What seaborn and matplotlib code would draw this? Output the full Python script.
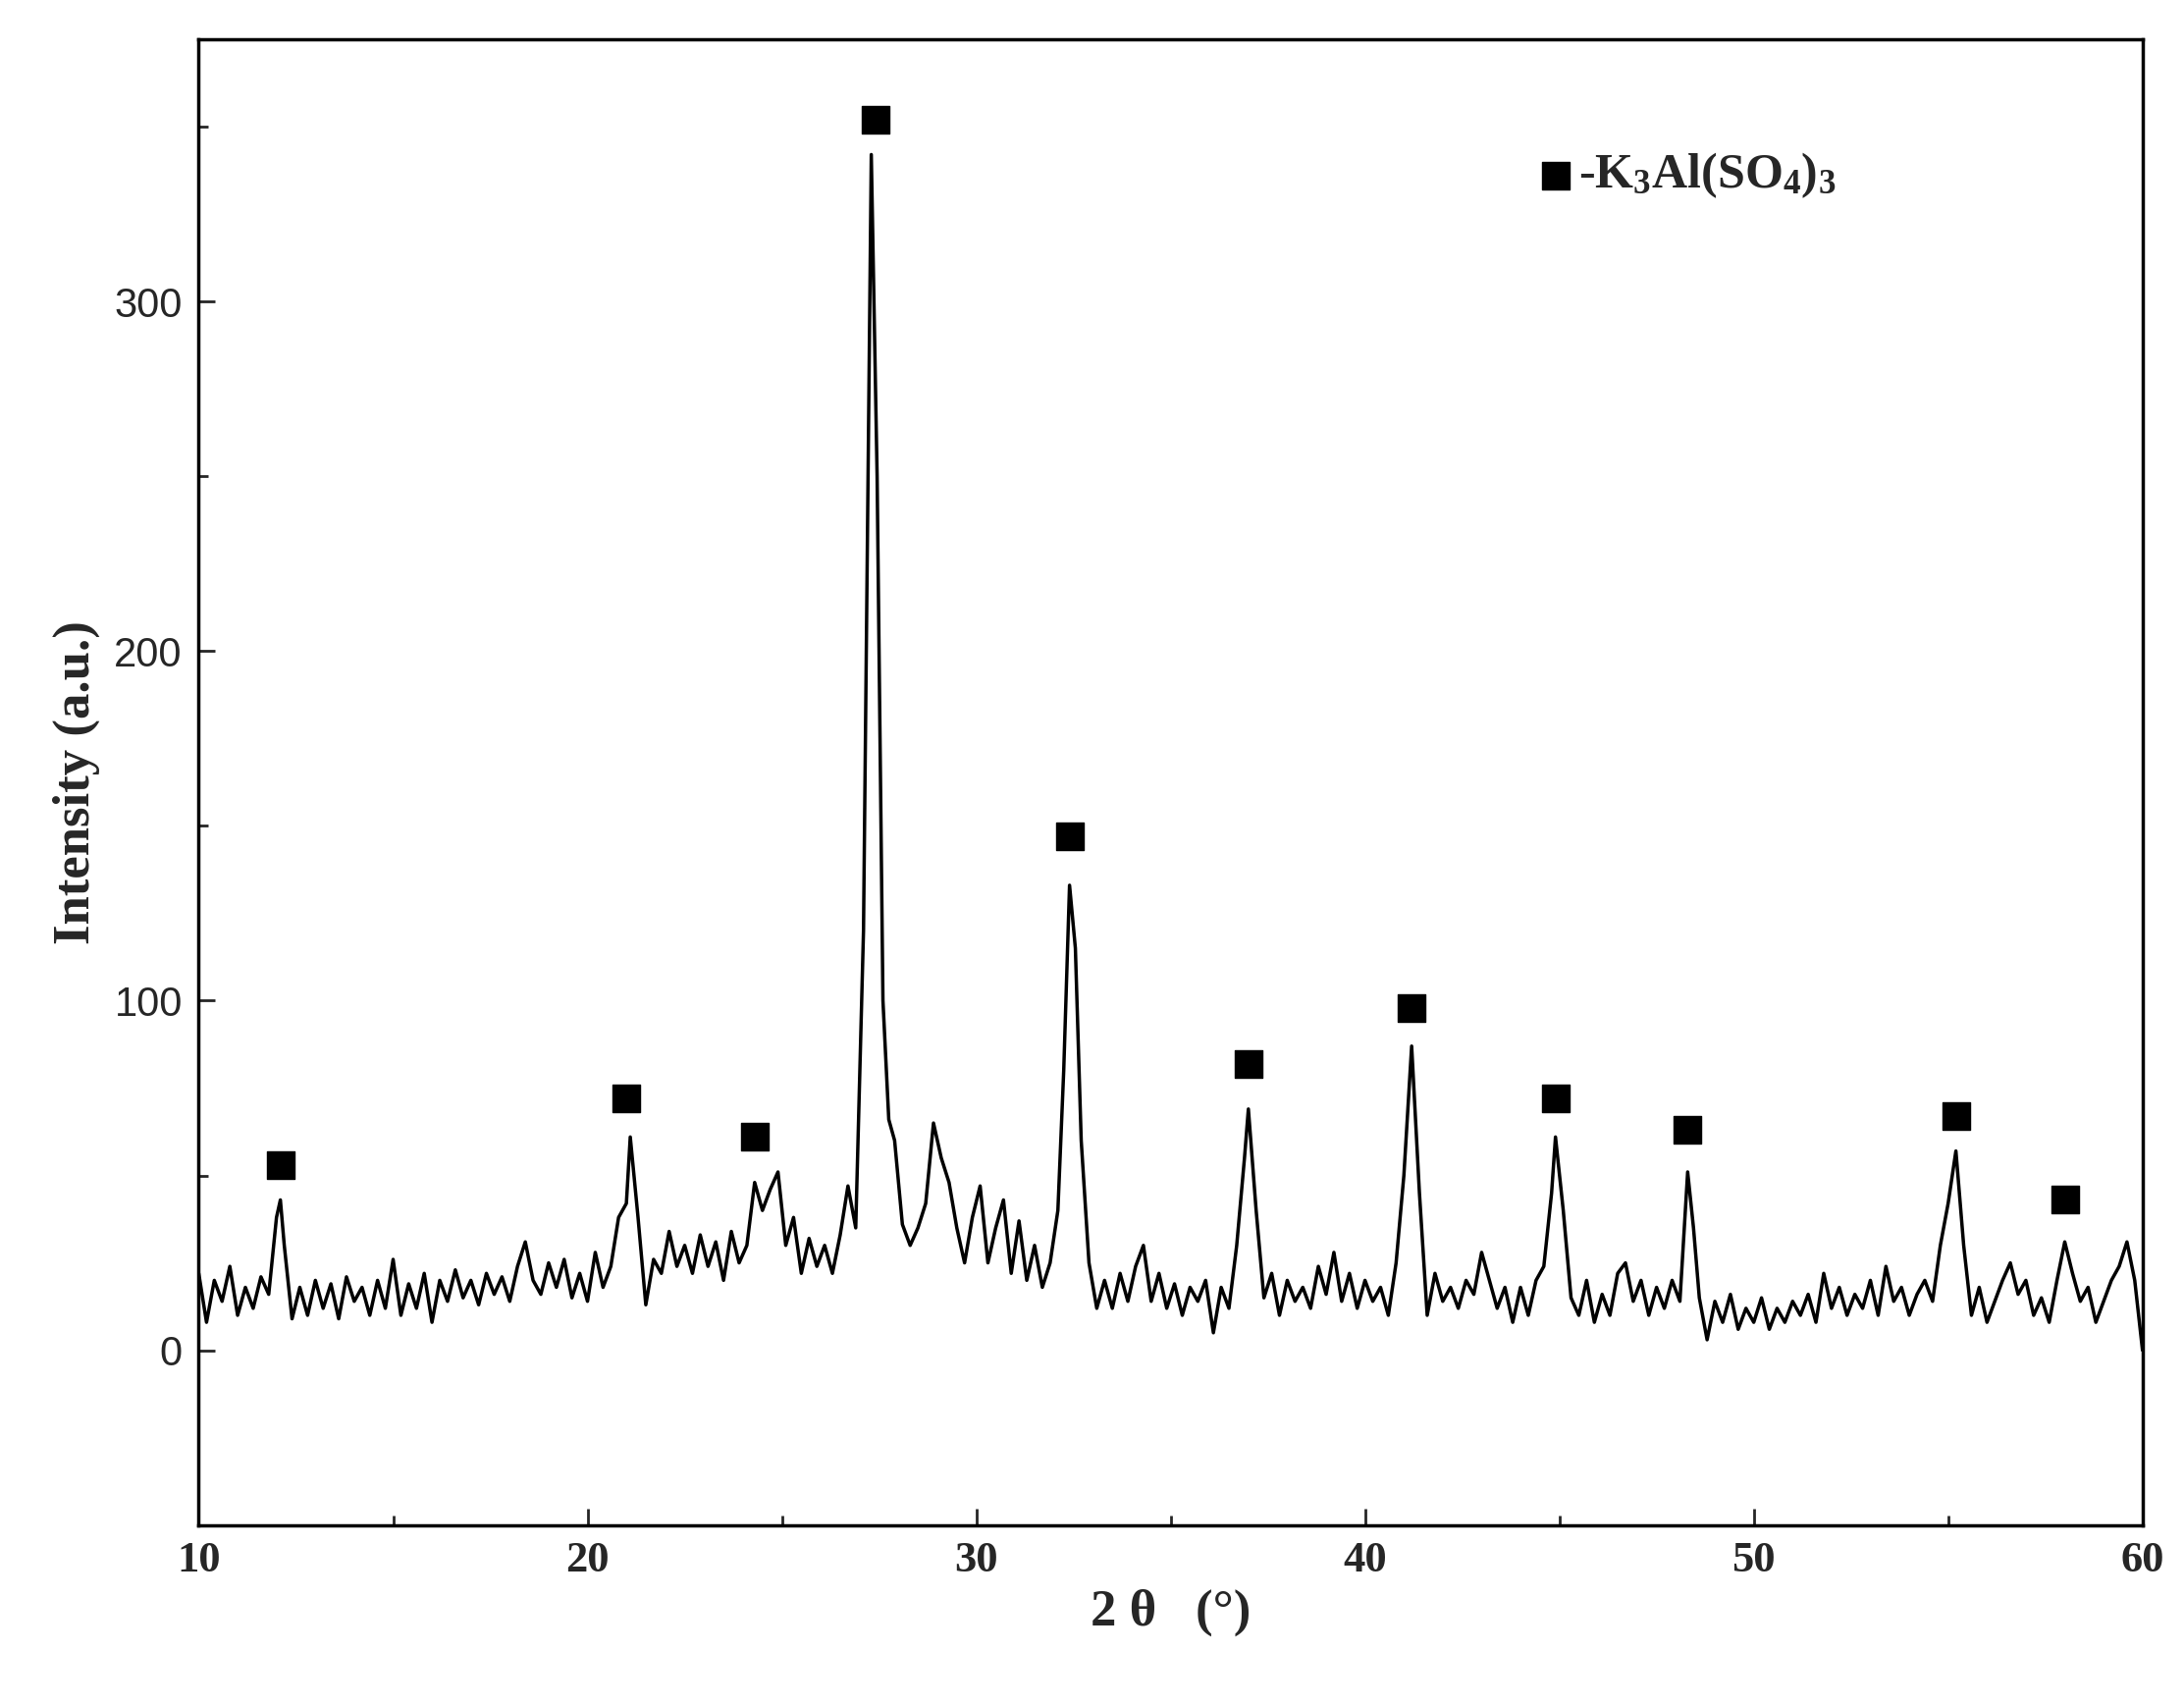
import matplotlib
matplotlib.use("Agg")
import matplotlib.pyplot as plt
import seaborn as sns
import pandas as pd
from matplotlib.ticker import MultipleLocator

pattern = [
(10.0,22),(10.2,8),(10.4,20),(10.6,14),(10.8,24),(11.0,10),(11.2,18),(11.4,12),(11.6,21),(11.8,16),
(12.0,38),(12.1,43),(12.2,30),(12.4,9),(12.6,18),(12.8,10),(13.0,20),(13.2,12),(13.4,19),(13.6,9),(13.8,21),
(14.0,14),(14.2,18),(14.4,10),(14.6,20),(14.8,12),(15.0,26),(15.2,10),(15.4,19),(15.6,12),(15.8,22),
(16.0,8),(16.2,20),(16.4,14),(16.6,23),(16.8,15),(17.0,20),(17.2,13),(17.4,22),(17.6,16),(17.8,21),
(18.0,14),(18.2,24),(18.4,31),(18.6,20),(18.8,16),(19.0,25),(19.2,18),(19.4,26),(19.6,15),(19.8,22),
(20.0,14),(20.2,28),(20.4,18),(20.6,24),(20.8,38),(21.0,42),(21.1,61),(21.3,38),(21.5,13),(21.7,26),(21.9,22),
(22.1,34),(22.3,24),(22.5,30),(22.7,22),(22.9,33),(23.1,24),(23.3,31),(23.5,20),(23.7,34),(23.9,25),
(24.1,30),(24.3,48),(24.5,40),(24.7,46),(24.9,51),(25.1,30),(25.3,38),(25.5,22),(25.7,32),(25.9,24),
(26.1,30),(26.3,22),(26.5,33),(26.7,47),(26.9,35),(27.1,120),(27.3,342),(27.45,250),(27.6,100),(27.75,66),(27.9,60),
(28.1,36),(28.3,30),(28.5,35),(28.7,42),(28.9,65),(29.1,55),(29.3,48),(29.5,35),(29.7,25),(29.9,38),
(30.1,47),(30.3,25),(30.5,35),(30.7,43),(30.9,22),(31.1,37),(31.3,20),(31.5,30),(31.7,18),(31.9,25),
(32.1,40),(32.25,80),(32.4,133),(32.55,115),(32.7,60),(32.9,25),(33.1,12),(33.3,20),(33.5,12),(33.7,22),(33.9,14),
(34.1,24),(34.3,30),(34.5,14),(34.7,22),(34.9,12),(35.1,19),(35.3,10),(35.5,18),(35.7,14),(35.9,20),
(36.1,5),(36.3,18),(36.5,12),(36.7,30),(36.9,55),(37.0,69),(37.2,40),(37.4,15),(37.6,22),(37.8,10),
(38.0,20),(38.2,14),(38.4,18),(38.6,12),(38.8,24),(39.0,16),(39.2,28),(39.4,14),(39.6,22),(39.8,12),
(40.0,20),(40.2,14),(40.4,18),(40.6,10),(40.8,25),(41.0,50),(41.2,87),(41.4,45),(41.6,10),(41.8,22),
(42.0,14),(42.2,18),(42.4,12),(42.6,20),(42.8,16),(43.0,28),(43.2,20),(43.4,12),(43.6,18),(43.8,8),
(44.0,18),(44.2,10),(44.4,20),(44.6,24),(44.8,45),(44.9,61),(45.1,40),(45.3,15),(45.5,10),(45.7,20),(45.9,8),
(46.1,16),(46.3,10),(46.5,22),(46.7,25),(46.9,14),(47.1,20),(47.3,10),(47.5,18),(47.7,12),(47.9,20),
(48.1,14),(48.3,51),(48.45,35),(48.6,15),(48.8,3),(49.0,14),(49.2,8),(49.4,16),(49.6,6),(49.8,12),
(50.0,8),(50.2,15),(50.4,6),(50.6,12),(50.8,8),(51.0,14),(51.2,10),(51.4,16),(51.6,8),(51.8,22),
(52.0,12),(52.2,18),(52.4,10),(52.6,16),(52.8,12),(53.0,20),(53.2,10),(53.4,24),(53.6,14),(53.8,18),
(54.0,10),(54.2,16),(54.4,20),(54.6,14),(54.8,30),(55.0,42),(55.2,57),(55.4,30),(55.6,10),(55.8,18),
(56.0,8),(56.2,14),(56.4,20),(56.6,25),(56.8,16),(57.0,20),(57.2,10),(57.4,15),(57.6,8),(57.8,20),
(58.0,31),(58.2,22),(58.4,14),(58.6,18),(58.8,8),(59.0,14),(59.2,20),(59.4,24),(59.6,31),(59.8,20),(60.0,0),
]
two_theta = [p[0] for p in pattern]
intensity = [p[1] for p in pattern]

marker_x = [12.1, 21.0, 24.3, 27.4, 32.4, 37.0, 41.2, 44.9, 48.3, 55.2, 58.0]
marker_y = [53, 72, 61, 352, 147, 82, 98, 72, 63, 67, 43]

sns.set_style("white")
plt.rcParams["mathtext.fontset"] = "custom"
plt.rcParams["mathtext.rm"] = "Liberation Serif:bold"
plt.rcParams["mathtext.it"] = "Liberation Serif:bold"
plt.rcParams["mathtext.bf"] = "Liberation Serif:bold"
plt.rcParams["mathtext.default"] = "rm"

fig = plt.figure(figsize=(22.25, 17.36), dpi=100)
ax = fig.add_axes([0.091, 0.105, 0.89, 0.872])
df = pd.DataFrame({"x": two_theta, "y": intensity})
sns.lineplot(data=df, x="x", y="y", sort=False, color="black", linewidth=2.5, ax=ax)
ax.scatter(marker_x, marker_y, marker="s", s=380, color="black", zorder=3)
ax.scatter([44.9], [336], marker="s", s=380, color="black")
ax.text(45.5, 336, r"-K$_3$Al(SO$_4$)$_3$", fontsize=36, fontweight="bold",
        family="Liberation Serif", va="center", ha="left")

ax.set_xlim(10, 60)
ax.set_ylim(-50, 375)
ax.xaxis.set_major_locator(MultipleLocator(10))
ax.xaxis.set_minor_locator(MultipleLocator(5))
ax.yaxis.set_major_locator(MultipleLocator(100))
ax.yaxis.set_minor_locator(MultipleLocator(50))
ax.tick_params(axis="both", which="major", direction="in", length=12, width=2, bottom=True, left=True)
ax.tick_params(axis="both", which="minor", direction="in", length=7, width=2, bottom=True, left=True)
ax.tick_params(axis="x", labelsize=32, pad=12)
ax.tick_params(axis="y", labelsize=30, pad=12)
for lab in ax.get_xticklabels():
    lab.set_family("Liberation Serif"); lab.set_fontweight("bold")
for lab in ax.get_yticklabels():
    lab.set_family("Liberation Sans")
for s in ax.spines.values():
    s.set_linewidth(2.5); s.set_color("black")
ax.set_xlabel("2 θ   (°)", fontsize=38, fontweight="bold", family="Liberation Serif", labelpad=6)
ax.set_ylabel("Intensity (a.u.)", fontsize=38, fontweight="bold", family="Liberation Serif", labelpad=10)
fig.savefig("out.png", dpi=100, facecolor="white")
